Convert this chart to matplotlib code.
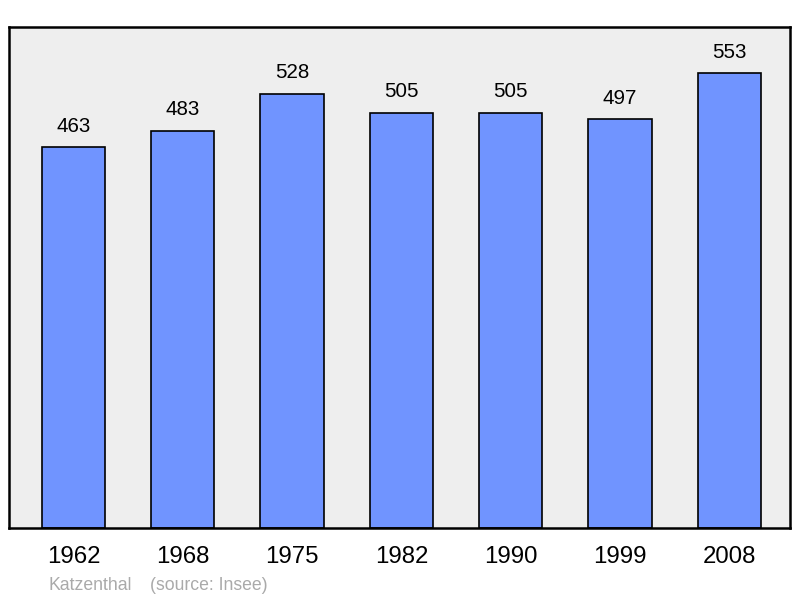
import matplotlib.pyplot as plt

years = ["1962", "1968", "1975", "1982", "1990", "1999", "2008"]
population = [463, 483, 528, 505, 505, 497, 553]
town = "Katzenthal"
source = "(source: Insee)"

plt.rcParams["font.family"] = ["Liberation Sans", "DejaVu Sans"]

fig = plt.figure(figsize=(8, 5.98), dpi=100)
ax = fig.add_axes([9 / 800, 70 / 598, 781 / 800, 501 / 598])
ax.set_facecolor("#eeeeee")

x = list(range(len(years)))
ax.bar(x, population, width=0.58, color="#7094ff", edgecolor="black", linewidth=1.2, zorder=2)
for xi, v in zip(x, population):
    ax.text(xi, v + 14, str(v), ha="center", va="bottom", fontsize=14.8)

ax.set_xlim(-0.59, 6.555)
ax.set_ylim(0, 609)
ax.set_xticks(x)
ax.set_xticklabels(years, fontsize=17.3)
ax.tick_params(axis="x", length=0, pad=13)
ax.set_yticks([])
for s in ax.spines.values():
    s.set_linewidth(1.8)
    s.set_color("black")

# footer
fig.text(48 / 800, 1 - 585 / 598, town, fontsize=12.7, color="#aaaaaa", va="center")
fig.text(150 / 800, 1 - 585 / 598, source, fontsize=12.7, color="#aaaaaa", va="center")

fig.savefig("out.png", dpi=100)
